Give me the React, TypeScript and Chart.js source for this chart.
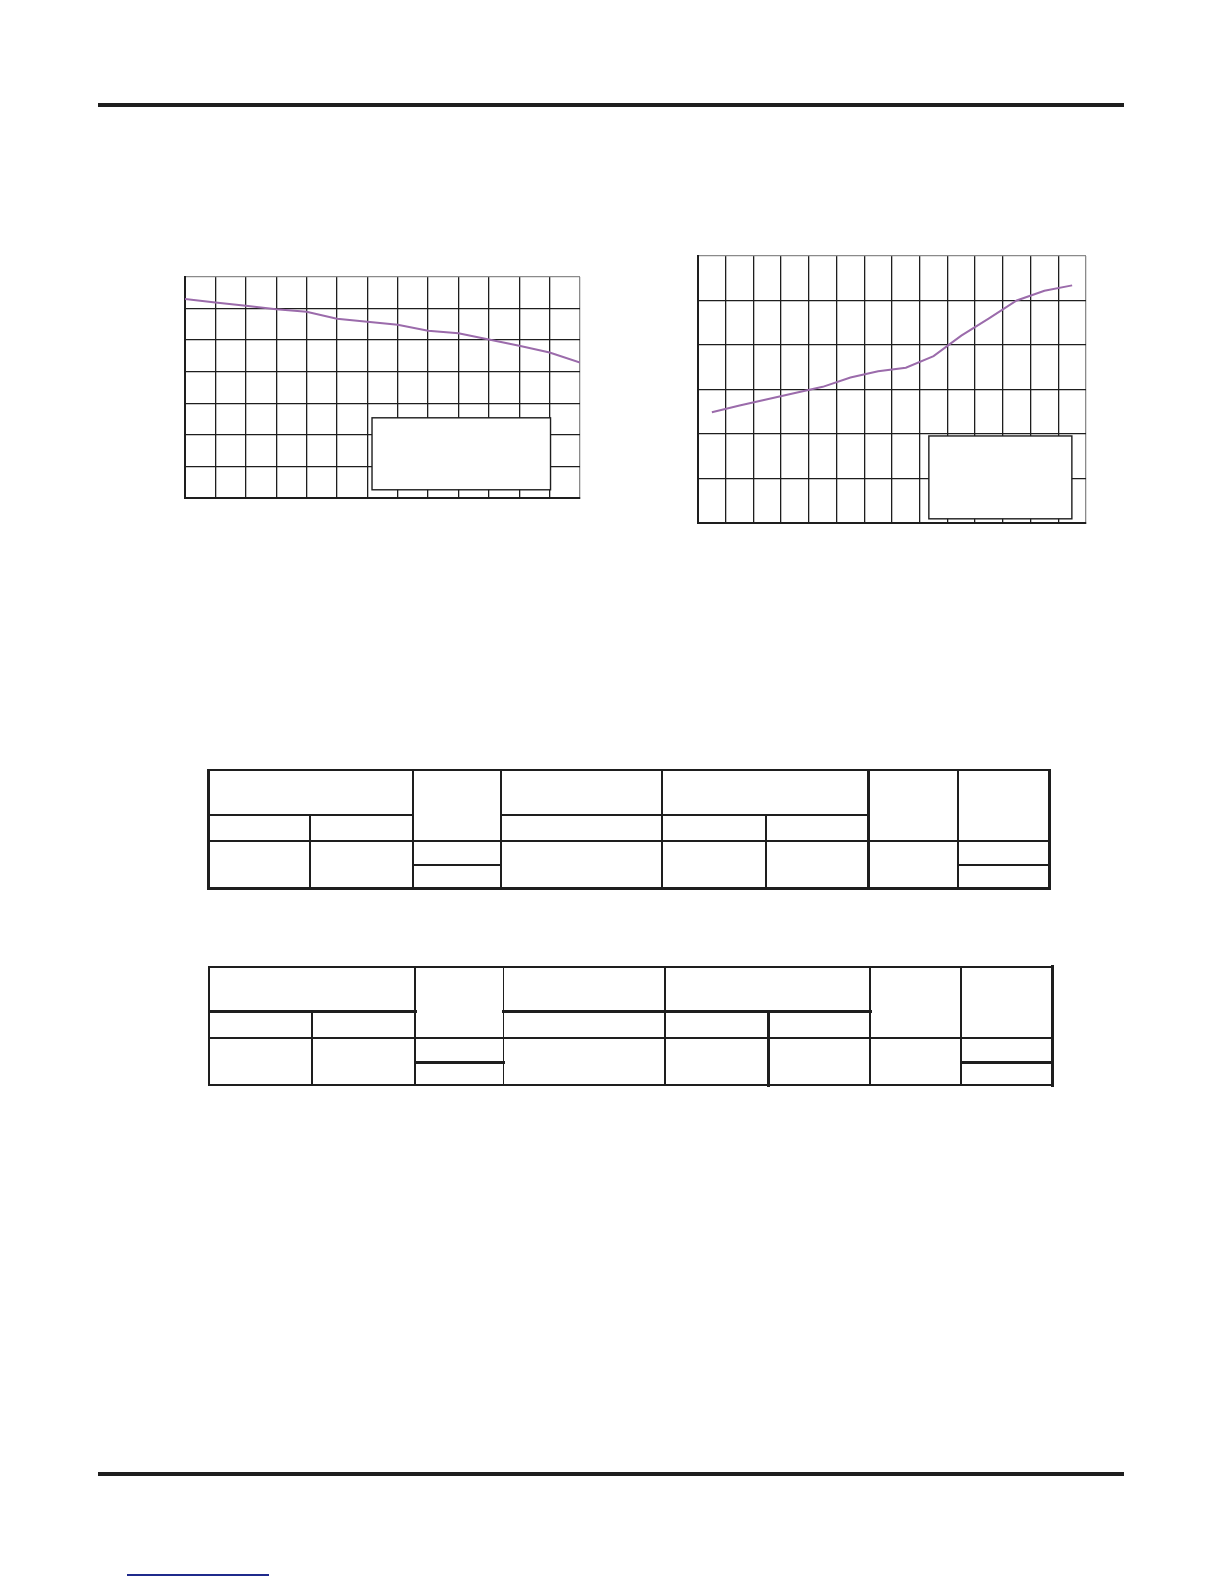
import React, { useEffect, useRef } from "react";
import { Chart, registerables } from "chart.js";

Chart.register(...registerables);

// ---- data ----
const chart1X = [0, 1, 2, 3, 4, 5, 6, 7, 8, 9, 10, 11, 12, 13];
const chart1Y = [6.3, 6.19, 6.09, 5.98, 5.9, 5.68, 5.58, 5.49, 5.3, 5.22, 5.02, 4.82, 4.61, 4.29];
const chart1XMax = 13;
const chart1YMax = 7;
const chart1Box = [6.155, 0.26, 12.03, 2.54];

const chart2X = [0.5, 1.5, 2.5, 3.5, 4.5, 5.5, 6.5, 7.5, 8.5, 9.5, 10.5, 11.5, 12.5, 13.5];
const chart2Y = [2.49, 2.64, 2.78, 2.92, 3.06, 3.27, 3.41, 3.49, 3.75, 4.21, 4.6, 5.0, 5.22, 5.34];
const chart2XMax = 14;
const chart2YMax = 6;
const chart2Box = [8.33, 0.094, 13.49, 1.956];

const LINE_COLOR = "#9b6bab";
const INK = "#1e1e1e";
const GRAY = "#8a8a8a";
const PAD = 4;

type GridProps = {
  left: number;
  top: number;
  width: number;
  height: number;
  xs: number[];
  ys: number[];
  xMax: number;
  yMax: number;
  box: number[];
};

function GridChart({ left, top, width, height, xs, ys, xMax, yMax, box }: GridProps) {
  const ref = useRef<HTMLCanvasElement | null>(null);
  useEffect(() => {
    if (!ref.current) return;
    const boxPlugin = {
      id: "whiteBox",
      afterDraw(chart: any) {
        const sx = chart.scales.x;
        const sy = chart.scales.y;
        const x0 = sx.getPixelForValue(box[0]);
        const x1 = sx.getPixelForValue(box[2]);
        const y0 = sy.getPixelForValue(box[3]);
        const y1 = sy.getPixelForValue(box[1]);
        const c = chart.ctx;
        c.save();
        c.fillStyle = "#ffffff";
        c.fillRect(x0, y0, x1 - x0, y1 - y0);
        c.strokeStyle = INK;
        c.lineWidth = 1.4;
        c.strokeRect(x0, y0, x1 - x0, y1 - y0);
        c.restore();
      },
    };
    const chart = new Chart(ref.current, {
      type: "line",
      data: {
        datasets: [
          {
            data: xs.map((x, i) => ({ x, y: ys[i] })),
            borderColor: LINE_COLOR,
            borderWidth: 2,
            pointRadius: 0,
            tension: 0,
            fill: false,
          },
        ],
      },
      options: {
        animation: false,
        responsive: false,
        layout: { padding: PAD },
        plugins: { legend: { display: false }, tooltip: { enabled: false } },
        scales: {
          x: {
            type: "linear",
            min: 0,
            max: xMax,
            ticks: { display: false, stepSize: 1 },
            grid: {
              drawTicks: false,
              lineWidth: 1.3,
              color: (ctx: any) => (ctx.tick && ctx.tick.value === xMax ? GRAY : INK),
            },
            border: { display: true, color: INK, width: 2 },
          },
          y: {
            type: "linear",
            min: 0,
            max: yMax,
            ticks: { display: false, stepSize: 1 },
            grid: {
              drawTicks: false,
              lineWidth: 1.3,
              color: (ctx: any) => (ctx.tick && ctx.tick.value === yMax ? GRAY : INK),
            },
            border: { display: true, color: INK, width: 2 },
          },
        },
      },
      plugins: [boxPlugin],
    } as any);
    return () => chart.destroy();
  }, []);
  return (
    <canvas
      ref={ref}
      width={width}
      height={height}
      style={{ position: "absolute", left, top, width, height }}
    />
  );
}

function HLine({ x1, x2, y, w }: { x1: number; x2: number; y: number; w: number }) {
  return (
    <div
      style={{
        position: "absolute",
        left: x1 - w / 2,
        top: y - w / 2,
        width: x2 - x1 + w,
        height: w,
        background: INK,
      }}
    />
  );
}

function VLine({ x, y1, y2, w }: { x: number; y1: number; y2: number; w: number }) {
  return (
    <div
      style={{
        position: "absolute",
        left: x - w / 2,
        top: y1 - w / 2,
        width: w,
        height: y2 - y1 + w,
        background: INK,
      }}
    />
  );
}

type TableSpec = {
  c: number[];
  r: number[];
  top: number;
  bottom: number;
  left: number;
  right: number;
  r1: number;
  r3: number;
  c5: number;
  c6: number;
};

function Table({ c, r, top, bottom, left, right, r1, r3, c5, c6 }: TableSpec) {
  const t = 1.5;
  return (
    <>
      <HLine x1={c[0]} x2={c[8]} y={r[0]} w={top} />
      <HLine x1={c[0]} x2={c[8]} y={r[4]} w={bottom} />
      <HLine x1={c[0]} x2={c[2]} y={r[1]} w={r1} />
      <HLine x1={c[3]} x2={c[6]} y={r[1]} w={r1} />
      <HLine x1={c[0]} x2={c[8]} y={r[2]} w={t} />
      <HLine x1={c[2]} x2={c[3]} y={r[3]} w={r3} />
      <HLine x1={c[7]} x2={c[8]} y={r[3]} w={r3} />
      <VLine x={c[0]} y1={r[0]} y2={r[4]} w={left} />
      <VLine x={c[1]} y1={r[1]} y2={r[4]} w={t} />
      <VLine x={c[2]} y1={r[0]} y2={r[4]} w={t} />
      <VLine x={c[3]} y1={r[0]} y2={r[4]} w={t} />
      <VLine x={c[4]} y1={r[0]} y2={r[4]} w={t} />
      <VLine x={c[5]} y1={r[1]} y2={r[4]} w={c5} />
      <VLine x={c[6]} y1={r[0]} y2={r[4]} w={c6} />
      <VLine x={c[7]} y1={r[0]} y2={r[4]} w={t} />
      <VLine x={c[8]} y1={r[0]} y2={r[4]} w={right} />
    </>
  );
}

export default function App() {
  return (
    <div
      style={{
        position: "absolute",
        left: 0,
        top: 0,
        width: 1224,
        height: 1584,
        overflow: "hidden",
        background: "#ffffff",
      }}
    >
      <HLine x1={100} x2={1122} y={105} w={4} />
      <HLine x1={100} x2={1122} y={1474} w={4} />
      <div
        style={{
          position: "absolute",
          left: 127,
          top: 1574,
          width: 142,
          height: 1.5,
          background: "#1f2a8c",
        }}
      />

      <GridChart
        left={185 - PAD}
        top={277 - PAD}
        width={395 + 2 * PAD}
        height={221 + 2 * PAD}
        xs={chart1X}
        ys={chart1Y}
        xMax={chart1XMax}
        yMax={chart1YMax}
        box={chart1Box}
      />
      <GridChart
        left={698 - PAD}
        top={256 - PAD}
        width={388 + 2 * PAD}
        height={267 + 2 * PAD}
        xs={chart2X}
        ys={chart2Y}
        xMax={chart2XMax}
        yMax={chart2YMax}
        box={chart2Box}
      />

      <Table
        c={[208, 310, 413, 501, 662, 766, 868, 958, 1049]}
        r={[770, 815, 841, 865, 888]}
        top={2}
        bottom={3}
        left={3}
        right={3}
        r1={1.5}
        r3={1.5}
        c5={1.5}
        c6={3}
      />
      <Table
        c={[209, 312, 415, 503.5, 665, 768, 870, 961, 1052]}
        r={[966.5, 1011.5, 1038, 1062, 1085]}
        top={2}
        bottom={2}
        left={2}
        right={3}
        r1={3}
        r3={3}
        c5={3}
        c6={1.5}
      />
    </div>
  );
}
